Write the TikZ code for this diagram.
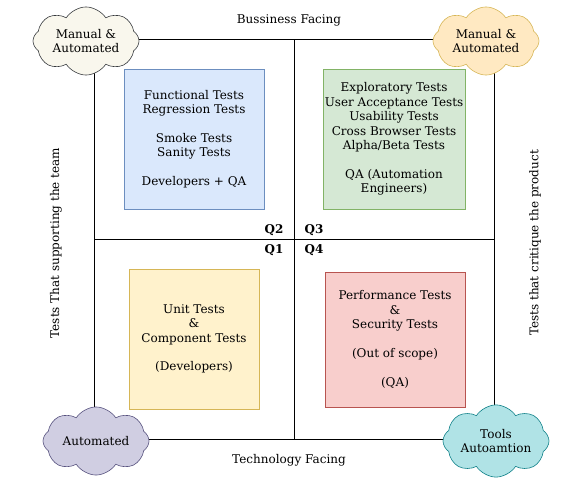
\documentclass[tikz,border=0pt]{standalone}
\usepackage{fontspec}
\setmainfont{DejaVu Serif}
\usetikzlibrary{shapes.symbols}
\definecolor{blueF}{HTML}{DAE8FC}\definecolor{blueD}{HTML}{6C8EBF}
\definecolor{greenF}{HTML}{D5E8D4}\definecolor{greenD}{HTML}{82B366}
\definecolor{yellowF}{HTML}{FFF2CC}\definecolor{yellowD}{HTML}{D6B656}
\definecolor{redF}{HTML}{F8CECC}\definecolor{redD}{HTML}{B85450}
\definecolor{creamF}{HTML}{F9F7ED}\definecolor{creamD}{HTML}{36393D}
\definecolor{orangeF}{HTML}{FFE9C2}
\definecolor{purpleF}{HTML}{D0CEE2}\definecolor{purpleD}{HTML}{56517E}
\definecolor{tealF}{HTML}{B0E3E6}\definecolor{tealD}{HTML}{0E8088}
\tikzset{
  every node/.style={font=\fontsize{12}{14.4}\selectfont, align=center, inner sep=0pt},
  testbox/.style={draw, rectangle, line width=0.6pt},
  puff/.style={draw, cloud, cloud puffs=8, cloud puff arc=115, aspect=1.8,
    minimum width=106pt, minimum height=56pt, line width=0.6pt},
  qlabel/.style={font=\fontsize{12}{14}\selectfont\bfseries}
}
\begin{document}
\begin{tikzpicture}[x=1pt, y=-1pt]
\useasboundingbox (0,0) rectangle (587,479);
% quadrant frame
\draw[line width=0.8pt] (94,39) rectangle (494,439);
\draw[line width=0.8pt] (294,39) -- (294,439);
\draw[line width=0.8pt] (94,239) -- (494,239);
% axis texts
\node (business) at (289,20) {Bussiness Facing};
\node (technology) at (289,460) {Technology Facing};
\node[rotate=90] (support) at (56,243) {Tests That supporting the team};
\node[rotate=90] (critique) at (535,243) {Tests that critique the product};
% quadrant names
\node[qlabel] (q2) at (274,230) {Q2};
\node[qlabel] (q3) at (314,230) {Q3};
\node[qlabel] (q1) at (274,250) {Q1};
\node[qlabel] (q4) at (314,250) {Q4};
% test boxes
\node[testbox, fill=blueF, draw=blueD, minimum width=140pt, minimum height=140pt] (functional) at (194,139)
  {Functional Tests\\Regression Tests\\[14.4pt]Smoke Tests\\Sanity Tests\\[14.4pt]Developers + QA};
\node[testbox, fill=greenF, draw=greenD, minimum width=142pt, minimum height=140pt] (exploratory) at (394,139)
  {Exploratory Tests\\User Acceptance Tests\\Usability Tests\\Cross Browser Tests\\Alpha/Beta Tests\\[14.4pt]QA (Automation\\Engineers)};
\node[testbox, fill=yellowF, draw=yellowD, minimum width=130pt, minimum height=140pt] (unit) at (194,339)
  {Unit Tests\\\&\\Component Tests\\[14.4pt](Developers)};
\node[testbox, fill=redF, draw=redD, minimum width=140pt, minimum height=135pt] (performance) at (395,339.5)
  {Performance Tests\\\&\\Security Tests\\[14.4pt](Out of scope)\\[14.4pt](QA)};
% clouds
\node[puff, fill=creamF, draw=creamD] (manualA) at (86,41) {Manual \&\\Automated};
\node[puff, fill=orangeF, draw=yellowD] (manualB) at (486,41) {Manual \&\\Automated};
\node[puff, fill=purpleF, draw=purpleD] (automated) at (96,441) {Automated};
\node[puff, fill=tealF, draw=tealD] (tools) at (496,441) {Tools\\Autoamtion};
\end{tikzpicture}
\end{document}
